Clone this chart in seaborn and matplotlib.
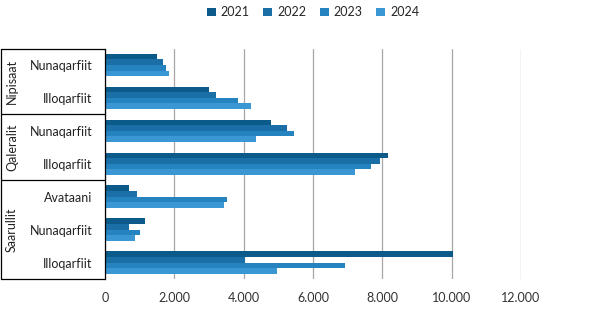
import matplotlib
matplotlib.use("Agg")
import matplotlib.pyplot as plt
import matplotlib.transforms as mtransforms
from matplotlib.lines import Line2D
from matplotlib.patches import Patch
import seaborn as sns
import pandas as pd

groups = ['Nipisaat', 'Nipisaat', 'Qaleralit', 'Qaleralit', 'Saarullit', 'Saarullit', 'Saarullit']
categories = ['Nunaqarfiit', 'Illoqarfiit', 'Nunaqarfiit', 'Illoqarfiit', 'Avataani', 'Nunaqarfiit', 'Illoqarfiit']
years = ['2021', '2022', '2023', '2024']
v2021 = [1510, 3010, 4790, 8170, 680, 1150, 10050]
v2022 = [1680, 3190, 5260, 7920, 930, 680, 4030]
v2023 = [1760, 3850, 5460, 7670, 3530, 1010, 6920]
v2024 = [1860, 4210, 4350, 7200, 3420, 860, 4970]
xticks = [0, 2000, 4000, 6000, 8000, 10000, 12000]
colors = ['#0b5a8a', '#1a6fa6', '#2583bf', '#3b97d3']

sns.set_theme(style='white')
plt.rcParams['font.family'] = ['Lato', 'DejaVu Sans']

keys = [f'{g}|{c}' for g, c in zip(groups, categories)]
rows = []
for yr, vals in zip(years, [v2021, v2022, v2023, v2024]):
    for k, v in zip(keys, vals):
        rows.append({'key': k, 'year': yr, 'value': v})
df = pd.DataFrame(rows)

fig = plt.figure(figsize=(6.14, 3.33), dpi=100)
W, H = 614, 333
left, right, top, bottom = 105, 521, 48.5, 279
ax = fig.add_axes([left / W, 1 - bottom / H, (right - left) / W, (bottom - top) / H])

sns.barplot(data=df, y='key', x='value', hue='year', order=keys, hue_order=years,
            palette=colors, orient='h', width=0.68, saturation=1, ax=ax,
            legend=False, errorbar=None, linewidth=0)

ax.set_xlim(0, 12000)
ax.set_ylim(6.5, -0.5)
ax.set_xticks(xticks)
ax.set_xticklabels([f'{t:,}'.replace(',', '.') for t in xticks], fontsize=9, color='#333333')
ax.set_yticks(range(len(keys)))
ax.set_yticklabels(categories, fontsize=9, color='#222222')
ax.tick_params(axis='y', length=0, pad=9)
ax.tick_params(axis='x', length=0, pad=9)
ax.set_xlabel('')
ax.set_ylabel('')
ax.xaxis.grid(True, color='#a6a6a6', linewidth=0.9)
ax.set_axisbelow(True)
for s in ['top', 'right', 'bottom']:
    ax.spines[s].set_visible(False)
ax.spines['left'].set_color('black')
ax.spines['left'].set_linewidth(0.9)

# group box
trans = mtransforms.blended_transform_factory(fig.transFigure, ax.transData)
x0 = 0.5 / W
x1 = left / W
for yv in [-0.5, 1.5, 3.5, 6.5]:
    ax.add_line(Line2D([x0, x1], [yv, yv], transform=trans, color='black', lw=0.9, clip_on=False))
ax.add_line(Line2D([x0, x0], [-0.5, 6.5], transform=trans, color='black', lw=0.9, clip_on=False))

# group labels
group_names = []
for g in groups:
    if g not in group_names:
        group_names.append(g)
for g in group_names:
    idx = [i for i, gg in enumerate(groups) if gg == g]
    yc = (idx[0] + idx[-1]) / 2
    ax.text(12 / W, yc, g, transform=trans, rotation=90, ha='center', va='center',
            fontsize=9, color='#222222')

handles = [Patch(facecolor=c, edgecolor='none') for c in colors]
fig.legend(handles, years, loc='upper center', bbox_to_anchor=(0.51, 1.015), ncol=4,
           frameon=False, fontsize=9, handlelength=0.7, handleheight=0.7,
           handletextpad=0.4, columnspacing=1.1)

fig.savefig('out.png', dpi=100)
